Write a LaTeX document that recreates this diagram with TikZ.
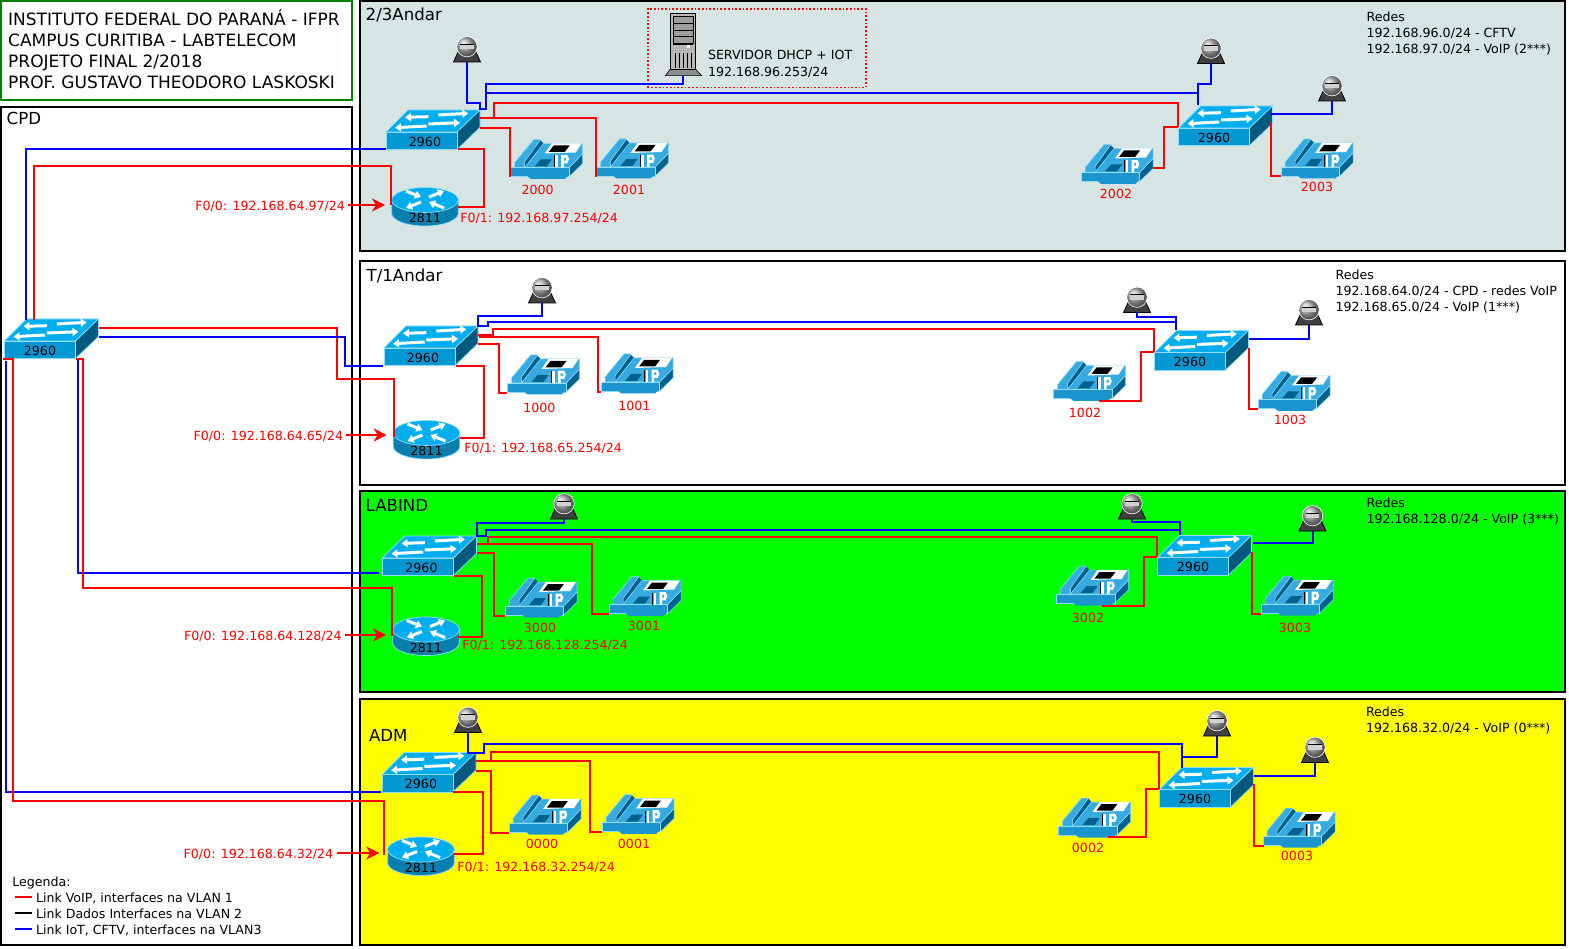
\documentclass[tikz,border=0pt]{standalone}
\usepackage{fontspec}
\setmainfont{DejaVu Sans}
\usetikzlibrary{arrows.meta}

\definecolor{swtop}{HTML}{00AEEF}
\definecolor{swfront}{HTML}{0097D2}
\definecolor{swside}{HTML}{005A80}
\definecolor{swedge}{HTML}{8FDDF8}
\definecolor{rtrbody}{HTML}{0A7FAE}
\definecolor{phtop}{HTML}{35ABE2}
\definecolor{phfront}{HTML}{1C95CE}
\definecolor{phside}{HTML}{00618F}
\definecolor{floorgrey}{HTML}{D6E4E4}
\definecolor{admyellow}{RGB}{255,255,0}

\tikzstyle{zone} = [draw=black, line width=2pt, inner sep=0, outer sep=0, anchor=north west]
\tikzstyle{vlan1} = [draw=red, line width=2pt]
\tikzstyle{vlan3} = [draw=blue, line width=2pt]
\tikzstyle{vlan1arrow} = [vlan1, -{Stealth[length=13pt,width=13pt,inset=4pt]}]
\tikzstyle{smalltxt} = [font=\fontsize{12.6}{16}\selectfont, inner sep=0, outer sep=0]
\tikzstyle{onetxt} = [smalltxt, text height=11.2pt, text depth=0pt]
\tikzstyle{redtxt} = [onetxt, text=red]
\tikzstyle{bigtxt} = [font=\fontsize{16.6}{21}\selectfont, inner sep=0, outer sep=0, text height=12.1pt, text depth=0pt, anchor=west]
\tikzstyle{netlist} = [smalltxt, align=left, anchor=north west]
\tikzstyle{wharrow} = [white, line width=3pt, -{Triangle[length=6pt,width=8pt]}]

\tikzset{
  swpic/.pic={
    \filldraw[fill=swtop, draw=swedge, line width=.7pt] (-35.5,-8.5) -- (-13.5,-30.5) -- (58.5,-30.5) -- (35.5,-8.5) -- cycle;
    \filldraw[fill=swside, draw=swedge, line width=.7pt] (35.5,-8.5) -- (58.5,-30.5) -- (58.5,-13) -- (35.5,9) -- cycle;
    \filldraw[fill=swfront, draw=swedge, line width=.7pt] (-35.5,-8.5) rectangle (35.5,9);
    \draw[wharrow] (6.8,-23.8) -- (-16.5,-23.2);
    \draw[wharrow] (16.8,-25.5) -- (46.8,-27.2);
    \draw[wharrow] (5.2,-14.5) -- (-26.5,-12.8);
    \draw[wharrow] (6.8,-16.5) -- (38.5,-17.8);
  },
  rtrpic/.pic={
    \filldraw[fill=rtrbody, draw=swedge, line width=.7pt] (-33.3,-17) -- (-33.3,-3.5) arc[start angle=180, end angle=0, x radius=33.3, y radius=12.5] -- (33.3,-17) -- cycle;
    \filldraw[fill=swtop, draw=swedge, line width=.7pt] (0,-17) ellipse[x radius=33.3, y radius=12.5];
    \draw[wharrow] (-19,-26) -- (-4,-20);
    \draw[wharrow] (19,-9) -- (4,-15);
    \draw[wharrow] (4,-20) -- (19,-26);
    \draw[wharrow] (-4,-15) -- (-19,-9);
  },
  campic/.pic={
    \filldraw[fill=black!75, draw=black, line width=.8pt] (-13.5,12) -- (13.5,12) -- (8,0) -- (-8,0) -- cycle;
    \shade[ball color=black!30] (0,-3.3) circle (10);
    \draw[white, line width=.6pt] (0,-3.3) circle (10.2);
    \fill[black!18] (-6.7,-5.7) rectangle (6.7,-.7);
    \draw[black, line width=.8pt] (-6.7,-5.7) -- (6.7,-5.7);
  },
  phonepic/.pic={
    \filldraw[fill=phside, draw=swedge, line width=.5pt] (22.7,9) -- (36,-5) -- (36,5) -- (22.7,18) -- cycle;
    \fill[phside] (-22,3) -- (-7,-19) -- (-3,-15) -- (-22,9) -- cycle;
    \filldraw[fill=phtop, draw=swedge, line width=.5pt] (-22,9) -- (-3,-15) -- (36,-15) -- (36,-5) -- (22.7,9) -- cycle;
    \filldraw[fill=phtop, draw=swedge, line width=.5pt] (-32,4) -- (-13,-19) -- (-6,-19) -- (-22,3) -- (-22,9) -- (-32,9) -- cycle;
    \filldraw[fill=phfront, draw=swedge, line width=.5pt] (-36,9) rectangle (22.7,18);
    \fill[phfront] (-20,17) -- (-16,20.5) -- (18,20.5) -- (22,17) -- cycle;
    \fill[white] (-2,-5) -- (5,-15) -- (35,-15) -- (29,-6) -- cycle;
    \fill[black] (2,-6.5) -- (7,-13) -- (23,-13) -- (18,-6.5) -- cycle;
    \fill[phside] (-12,8) -- (-6,1) -- (5,1) -- (0,8) -- cycle;
    \draw[black, line width=1pt] (7.7,-3) -- (7.7,9);
    \draw[white, line width=2.6pt] (10,-3) -- (10,9);
    \draw[white, line width=2.6pt] (15.8,9) -- (15.8,-2) -- (19.8,-2) -- (21,0.5) -- (19.8,3.5) -- (15.8,3.5);
  },
  srvpic/.pic={
    \filldraw[fill=black!45, draw=black, line width=.6pt] (-12.7,24.8) -- (-17.7,31.2) -- (18.7,31.2) -- (12.7,24.8) -- cycle;
    \filldraw[fill=black!28, draw=black, line width=.8pt] (-12.7,-31) rectangle (12.7,25);
    \filldraw[fill=black!38, draw=black, line width=.5pt] (-10,-28) rectangle (10,-21.5);
    \filldraw[fill=black!38, draw=black, line width=.5pt] (-10,-21.5) rectangle (10,-14.5);
    \filldraw[fill=black!38, draw=black, line width=.5pt] (-10,-14.5) rectangle (10,-8.5);
    \filldraw[fill=black!38, draw=black, line width=.5pt] (-10,-8.5) rectangle (10,-1.5);
    \fill[black] (-10,-1.5) rectangle (10,1);
    \fill[white] (4,1) rectangle (7,3.8);
    \draw[black, line width=.6pt] (-8,9) -- (-8,24) (-4,9) -- (-4,24) (0,9) -- (0,24) (4,9) -- (4,24) (8,9) -- (8,24);
  },
}

% devices: symbol first, then the named node on top of it
\newcommand{\swt}[3][0pt]{\pic at (#3) {swpic}; \node[onetxt] (#2) at (#3) {\hspace*{#1}2960};}
\newcommand{\rtr}[2]{\pic at (#2) {rtrpic}; \node[onetxt] (#1) at (#2) {2811};}
\newcommand{\cam}[2]{\pic at (#2) {campic}; \node[inner sep=0] (#1) at (#2) {};}
\newcommand{\phn}[4]{\pic at (#2) {phonepic}; \node[inner sep=0] (#1) at (#2) {}; \node[redtxt] (#1txt) at (#4) {#3};}

\begin{document}
\begin{tikzpicture}[x=1pt,y=-1pt]
    \useasboundingbox (0,0) rectangle (1569,949);

    % floors and title block
    \node[zone, draw={rgb,255:red,0;green,128;blue,0}, minimum width=351, minimum height=98.7] (header) at (1,1) {};
    \node[zone, minimum width=351, minimum height=838] (cpd) at (1,107) {};
    \node[zone, fill=floorgrey, minimum width=1205, minimum height=250] (floor23) at (360,1) {};
    \node[zone, fill=white, minimum width=1205, minimum height=224] (floor1) at (360,261) {};
    \node[zone, fill=green, minimum width=1205, minimum height=201] (labind) at (360,491) {};
    \node[zone, fill=admyellow, minimum width=1205, minimum height=246] (adm) at (360,699) {};

    \node[font=\fontsize{17}{20.9}\selectfont, inner sep=0, align=left, anchor=north west] (title) at (8,9.5) {INSTITUTO FEDERAL DO PARANÁ - IFPR\\CAMPUS CURITIBA - LABTELECOM\\PROJETO FINAL 2/2018\\PROF. GUSTAVO THEODORO LASKOSKI};
    \node[bigtxt] (cpdtxt) at (6.7,118.3) {CPD};
    \node[bigtxt] (floor23txt) at (365.7,14) {2/3Andar};
    \node[bigtxt] (floor1txt) at (366.7,275.7) {T/1Andar};
    \node[bigtxt] (labindtxt) at (365.7,505) {LABIND};
    \node[bigtxt] (admtxt) at (369,735) {ADM};

    \node[netlist] (net23) at (1366.6,11.5) {Redes\\192.168.96.0/24 - CFTV\\192.168.97.0/24 - VoIP (2***)};
    \node[netlist] (net1) at (1335.6,269.5) {Redes\\192.168.64.0/24 - CPD - redes VoIP\\192.168.65.0/24 - VoIP (1***)};
    \node[netlist] (netlab) at (1366.6,497.5) {Redes\\192.168.128.0/24 - VoIP (3***)};
    \node[netlist] (netadm) at (1366,707) {Redes\\192.168.32.0/24 - VoIP (0***)};

    % CPD and server
    \swt{swcpd}{40,349.5}
    \node[draw=red, line width=1.7pt, dash pattern=on 1.7pt off 2pt, inner sep=0, minimum width=218, minimum height=78.7] (dhcp) at (756.7,48.3) {};
    \pic at (683,44.5) {srvpic};
    \node[inner sep=0] (srv) at (683,44.5) {};
    \node[onetxt, anchor=west] (srvname) at (708,54) {SERVIDOR DHCP + IOT};
    \node[onetxt, anchor=west] (srvip) at (708,71) {192.168.96.253/24};

    % 2/3 andar
    \swt[7pt]{swupa}{421.5,140.5}
    \swt{swupb}{1214,136.5}
    \rtr{rtup}{425,217}
    \cam{camupa}{467,50}
    \cam{camupb}{1211,51.5}
    \cam{camupc}{1332,89}
    \phn{ph2000}{546.7,158.5}{2000}{537.7,189.3}
    \phn{ph2001}{632.5,158}{2001}{629,189.3}
    \phn{ph2002}{1117,163.5}{2002}{1116,193.3}
    \phn{ph2003}{1317,158}{2003}{1317,186}

    % T/1 andar
    \swt[7pt]{swtra}{419.5,356.5}
    \swt{swtrb}{1190,361}
    \rtr{rttr}{426.5,450}
    \cam{camtra}{542,291}
    \cam{camtrb}{1137,300.5}
    \cam{camtrc}{1309,313}
    \phn{ph1000}{543.5,374}{1000}{539.3,406.7}
    \phn{ph1001}{637,373}{1001}{634.3,405.3}
    \phn{ph1002}{1089.5,380.5}{1002}{1085,411.7}
    \phn{ph1003}{1294,390.5}{1003}{1290,419}

    % LABIND
    \swt[7pt]{swlaa}{418,566.5}
    \swt{swlab}{1193,566}
    \rtr{rtla}{426,646.5}
    \cam{camlaa}{564,507}
    \cam{camlab}{1132,507}
    \cam{camlac}{1312.5,519}
    \phn{ph3000}{541,597}{3000}{540,626.7}
    \phn{ph3001}{645,595.5}{3001}{644,625.3}
    \phn{ph3002}{1092.5,585}{3002}{1088,616.7}
    \phn{ph3003}{1297,595}{3003}{1295,626.7}

    % ADM
    \swt[7pt]{swada}{417.5,783}
    \swt{swadb}{1195,798}
    \rtr{rtad}{421,866.5}
    \cam{camada}{468,720.5}
    \cam{camadb}{1217,724}
    \cam{camadc}{1315,750.5}
    \phn{ph0000}{545,814}{0000}{542,843.3}
    \phn{ph0001}{638,813.5}{0001}{634,843.3}
    \phn{ph0002}{1094.5,817}{0002}{1088,846.7}
    \phn{ph0003}{1299,827}{0003}{1297,855.3}

    % router interfaces
    \node[redtxt, anchor=east] (f0up) at (345,205) {F0/0: 192.168.64.97/24};
    \node[redtxt, anchor=east] (f0tr) at (343.3,435) {F0/0: 192.168.64.65/24};
    \node[redtxt, anchor=east] (f0la) at (341.7,635) {F0/0: 192.168.64.128/24};
    \node[redtxt, anchor=east] (f0ad) at (333.3,853) {F0/0: 192.168.64.32/24};
    \node[redtxt, anchor=west] (f1up) at (460.3,216.7) {F0/1: 192.168.97.254/24};
    \node[redtxt, anchor=west] (f1tr) at (464.3,446.7) {F0/1: 192.168.65.254/24};
    \node[redtxt, anchor=west] (f1la) at (462.3,644.3) {F0/1: 192.168.128.254/24};
    \node[redtxt, anchor=west] (f1ad) at (457.3,865.7) {F0/1: 192.168.32.254/24};
    \draw[vlan1arrow] ([xshift=3pt]f0up.east) -- ([shift={(-40,-12)}]rtup.center);
    \draw[vlan1arrow] ([xshift=3pt]f0tr.east) -- ([shift={(-39.8,-15)}]rttr.center);
    \draw[vlan1arrow] ([xshift=3pt]f0la.east) -- ([shift={(-40,-11.5)}]rtla.center);
    \draw[vlan1arrow] ([xshift=4pt]f0ad.east) -- ([shift={(-41.7,-13.5)}]rtad.center);

    % uplinks from the CPD
    \draw[vlan3] ([shift={(-14,-29)}]swcpd.center) |- ([shift={(-36,8.5)}]swupa.center);
    \draw[vlan1] ([shift={(-6,-29.5)}]swcpd.center) |- (391,166) -- ([shift={(-34,-12)}]rtup.center);
    \draw[vlan1] ([shift={(59,-21)}]swcpd.center) -| (337,379) -| ([shift={(-33,-13)}]rttr.center);
    \draw[vlan3] ([shift={(59,-12.8)}]swcpd.center) -| (345,366) -- ([shift={(-36.5,9.5)}]swtra.center);
    \draw[vlan3] ([shift={(37.7,9.5)}]swcpd.center) |- ([shift={(-39,6.5)}]swlaa.center);
    \draw[vlan1] ([shift={(36,10)}]swcpd.center) -| (83.3,587.7) -| ([shift={(-34,-11)}]rtla.center);
    \draw[vlan3] ([shift={(-34,11.5)}]swcpd.center) |- ([shift={(-36.5,9)}]swada.center);
    \draw[vlan1] ([shift={(-36.7,10)}]swcpd.center) -| (12.7,801) -| ([shift={(-36.7,-11.5)}]rtad.center);

    % 2/3 andar links
    \draw[vlan3] ([shift={(0,12)}]camupa.center) |- (480,103) -- (480,109) -| (486,84) -| ([shift={(0,31.5)}]srv.center);
    \draw[vlan3] ([shift={(64.5,-47.5)}]swupa.center) -| ([shift={(-16,-31.5)}]swupb.center);
    \draw[vlan3] ([shift={(0,12)}]camupb.center) |- (1198,84) -- ([shift={(-16,-43.5)}]swupb.center);
    \draw[vlan3] ([shift={(56,-22.5)}]swupb.center) -| ([shift={(0,12)}]camupc.center);
    \draw[vlan1] ([shift={(58,-22.8)}]swupa.center) -| ([shift={(-36.5,18.7)}]ph2001.center);
    \draw[vlan1] ([shift={(72.2,-22.8)}]swupa.center) |- (1178,103) -- ([shift={(-36,-9.5)}]swupb.center);
    \draw[vlan1] ([shift={(58,-12.8)}]swupa.center) -| ([shift={(-36.7,18.8)}]ph2000.center);
    \draw[vlan1] ([shift={(36,8.5)}]swupa.center) -| (484,207.3) -- ([shift={(33,-9.7)}]rtup.center);
    \draw[vlan1] ([shift={(36,4.5)}]ph2002.center) -| (1164,127) -- ([shift={(-36,-9.5)}]swupb.center);
    \draw[vlan1] ([shift={(57,-14.5)}]swupb.center) |- ([shift={(-36,18)}]ph2003.center);

    % T/1 andar links
    \draw[vlan3] ([shift={(0,12)}]camtra.center) |- (478,316) |- (488,326) -- (488,322) -| ([shift={(-14,-31)}]swtrb.center);
    \draw[vlan3] ([shift={(0,12)}]camtrb.center) |- (1176,317) -- ([shift={(-14,-39)}]swtrb.center);
    \draw[vlan3] ([shift={(59,-22)}]swtrb.center) -| ([shift={(0,12)}]camtrc.center);
    \draw[vlan1] ([shift={(58.8,-21.5)}]swtra.center) -| (493.3,329) -| ([shift={(-36.5,-9.3)}]swtrb.center);
    \draw[vlan1] ([shift={(59.8,-19.2)}]swtra.center) -| (598.3,392.3) -- ([shift={(-36.3,19.3)}]ph1001.center);
    \draw[vlan1] ([shift={(58.8,-12.5)}]swtra.center) -| (498.7,393.3) -- ([shift={(-36.5,19.3)}]ph1000.center);
    \draw[vlan1] ([shift={(36.2,9.2)}]swtra.center) -| (484,437.7) -- ([shift={(33.5,-12.3)}]rttr.center);
    \draw[vlan1] ([shift={(9.3,20.5)}]ph1002.center) -| (1141,351.7) -- ([shift={(-36.5,-9.3)}]swtrb.center);
    \draw[vlan1] ([shift={(58.5,-12.7)}]swtrb.center) |- ([shift={(-36,18.5)}]ph1003.center);

    % LABIND links
    \draw[vlan3] ([shift={(0,12)}]camlaa.center) |- (476.7,522.7) |- (486,535.7) -- (486,530) -| ([shift={(-13.5,-31.5)}]swlab.center);
    \draw[vlan3] ([shift={(0,12)}]camlab.center) |- (1179.5,522) -- ([shift={(-13.5,-36)}]swlab.center);
    \draw[vlan3] ([shift={(60,-22.7)}]swlab.center) -| ([shift={(0,12)}]camlac.center);
    \draw[vlan1] ([shift={(59.3,-22.5)}]swlaa.center) -| (487.7,536.7) -| ([shift={(-36.5,-9)}]swlab.center);
    \draw[vlan1] ([shift={(59.3,-22.5)}]swlaa.center) -| (591.7,614) -- ([shift={(-36,18.5)}]ph3001.center);
    \draw[vlan1] ([shift={(59.3,-13.2)}]swlaa.center) -| (494,616) -- ([shift={(-36,19)}]ph3000.center);
    \draw[vlan1] ([shift={(36.3,9.5)}]swlaa.center) -| (482.3,636.7) -- ([shift={(32.3,-9.8)}]rtla.center);
    \draw[vlan1] ([shift={(9.8,20.7)}]ph3002.center) -| (1143.7,557) -- ([shift={(-36.5,-9)}]swlab.center);
    \draw[vlan1] ([shift={(58.5,-14)}]swlab.center) |- ([shift={(-35.7,19)}]ph3003.center);

    % ADM links
    \draw[vlan3] ([shift={(0,12)}]camada.center) |- (484.3,752.7) -- (484.3,744.3) -| ([shift={(-13.2,-30.3)}]swadb.center);
    \draw[vlan3] ([shift={(0,12)}]camadb.center) |- ([shift={(-13.2,-41)}]swadb.center);
    \draw[vlan3] ([shift={(59,-22)}]swadb.center) -| ([shift={(0,12)}]camadc.center);
    \draw[vlan1] ([shift={(58.5,-22.3)}]swada.center) -| (491,751.7) -| ([shift={(-36,-9.5)}]swadb.center);
    \draw[vlan1] ([shift={(58.5,-22.3)}]swada.center) -| (590,832) -- ([shift={(-36,18.5)}]ph0001.center);
    \draw[vlan1] ([shift={(58.5,-12.3)}]swada.center) -| (491,833) -- ([shift={(-36,19)}]ph0000.center);
    \draw[vlan1] ([shift={(35.8,8.7)}]swada.center) -| (483,854) -- ([shift={(33.3,-12.5)}]rtad.center);
    \draw[vlan1] ([shift={(13.5,19.7)}]ph0002.center) -| (1145.7,788.5) -- ([shift={(-36,-9.5)}]swadb.center);
    \draw[vlan1] ([shift={(58.5,-14)}]swadb.center) |- ([shift={(-35.5,19)}]ph0003.center);

    % legend
    \node[onetxt, anchor=west] (lgtitle) at (12.3,880.7) {Legenda:};
    \node[onetxt, anchor=west] (lgvoip) at (36,896.7) {Link VoIP, interfaces na VLAN 1};
    \node[onetxt, anchor=west] (lgdata) at (36,912.7) {Link Dados Interfaces na VLAN 2};
    \node[onetxt, anchor=west] (lgiot) at (36,928.7) {Link IoT, CFTV, interfaces na VLAN3};
    \draw[vlan1] ([xshift=-20.7pt]lgvoip.west) -- ([xshift=-4.3pt]lgvoip.west);
    \draw[black, line width=2pt] ([xshift=-20.7pt]lgdata.west) -- ([xshift=-4.3pt]lgdata.west);
    \draw[vlan3] ([xshift=-20.7pt]lgiot.west) -- ([xshift=-4.3pt]lgiot.west);
\end{tikzpicture}
\end{document}
